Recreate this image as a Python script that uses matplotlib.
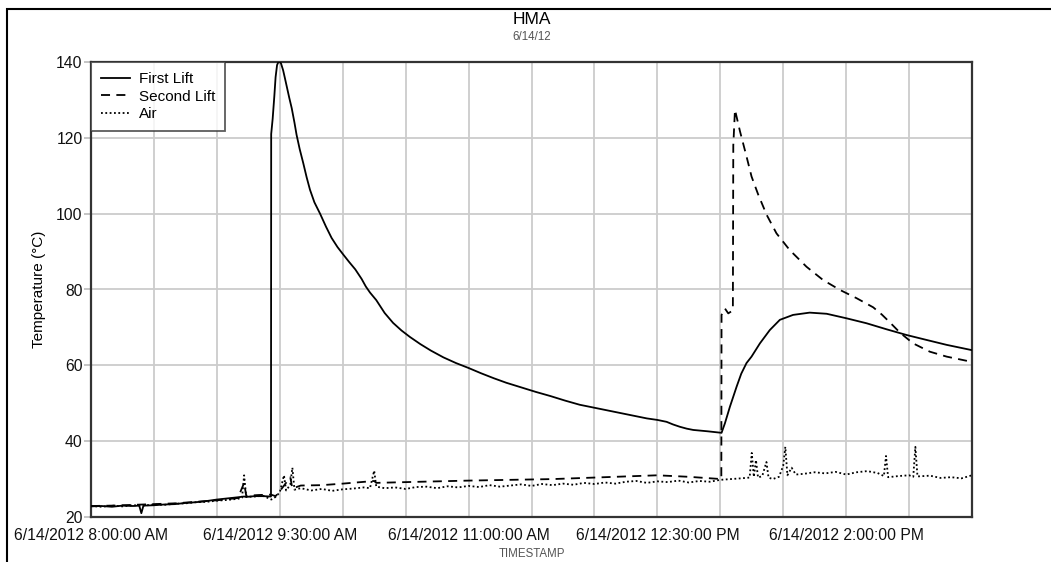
import matplotlib
matplotlib.use("Agg")
import matplotlib.pyplot as plt
import pandas as pd
from matplotlib.patches import Rectangle

# ---- data (minutes after 8:00 AM, temperature in deg C) ----
START = pd.Timestamp("2012-06-14 08:00")

first_lift_min = [0, 5, 10, 15, 20, 23, 24, 25, 30, 35, 40, 45, 50, 55, 60, 65, 70, 73, 74,
                  78, 82, 85.8, 85.9, 86.6, 87.4, 88.0, 88.7, 89.6, 90.6, 91.6, 92.5, 93.3,
                  94.5, 95.7, 97, 98, 99.5, 101.2, 102.8, 104.4, 106.5, 109.2, 112, 114.7,
                  117.5, 120, 123, 126, 129, 131, 133, 136, 140, 144, 148, 152, 157, 162,
                  168, 174, 180, 186, 192, 198, 205, 212, 219, 226, 233, 241, 249, 257,
                  265, 270, 274.4, 277.5, 280.7, 284, 287.1, 294, 300.6, 302.2, 304.6,
                  307.8, 310, 312.5, 314.9, 318.9, 323.6, 328.4, 334.7, 342.6, 350.7,
                  360.2, 369.7, 379.3, 388.8, 398.3, 407.9, 420]
first_lift_val = [22.8, 22.9, 22.7, 23.0, 22.9, 23.0, 21.0, 23.0, 23.1, 23.3, 23.4, 23.7,
                  23.9, 24.2, 24.6, 24.9, 25.2, 25.4, 25.3, 25.5, 25.5, 25.4, 121.0, 125.0,
                  131.0, 136.0, 139.2, 140.3, 139.6, 137.8, 135.6, 133.6, 130.6, 127.8,
                  124.0, 120.8, 117.0, 113.3, 109.6, 106.3, 103.0, 100.0, 96.6, 93.6, 91.2,
                  89.4, 87.3, 85.3, 82.8, 80.8, 79.2, 77.2, 73.8, 71.2, 69.2, 67.5, 65.6,
                  63.9, 62.1, 60.6, 59.3, 57.9, 56.6, 55.4, 54.2, 53.0, 51.9, 50.7, 49.6,
                  48.7, 47.8, 46.9, 46.0, 45.6, 45.1, 44.4, 43.8, 43.3, 42.96, 42.6, 42.2,
                  44.7, 49.1, 54.4, 57.8, 60.6, 62.3, 65.8, 69.3, 72.0, 73.3, 73.9, 73.6,
                  72.4, 71.1, 69.5, 68.0, 66.7, 65.4, 64.0]

second_lift_min = [0, 10, 20, 30, 40, 50, 60, 70, 73, 74, 80, 85.8, 88, 90, 95, 96, 100,
                   110, 120, 135, 136, 150, 165, 180, 200, 220, 240, 255, 270, 285, 300.5,
                   300.6, 302.2, 303.8, 306.0, 306.2, 307.0, 309.4, 312.5, 314.9, 318.1,
                   322.1, 326.8, 333.1, 341.1, 349.0, 357.0, 365.0, 372.9, 377.0, 380.9,
                   385.7, 391.9, 399.9, 407.9, 420]
second_lift_val = [22.9, 23.0, 23.2, 23.4, 23.6, 24.0, 24.4, 25.0, 29.0, 25.6, 25.8, 25.9,
                   25.5, 26.8, 30.5, 27.5, 28.3, 28.4, 28.8, 29.5, 29.0, 29.2, 29.4, 29.6,
                   29.8, 30.0, 30.4, 30.7, 31.0, 30.6, 30.0, 73.3, 75.0, 73.7, 74.5, 118.0,
                   127.4, 121.7, 115.1, 109.8, 105.0, 99.7, 94.8, 90.4, 86.0, 82.5, 79.9,
                   77.7, 75.3, 73.4, 71.3, 68.6, 65.8, 63.6, 62.3, 60.9]

air_min = [0, 5, 10, 15, 20, 25, 30, 35, 40, 45, 50, 55, 60, 65, 70, 72, 73, 74, 78, 82, 86,
           88, 90, 92, 93, 95, 96, 97, 100, 105, 110, 115, 120, 125, 130, 133, 135, 136,
           140, 145, 150, 155, 160, 165, 170, 175, 180, 185, 190, 195, 200, 205, 210, 215,
           220, 225, 230, 235, 240, 245, 250, 255, 260, 265, 270, 275, 280, 285, 290, 295,
           300, 305, 310, 314, 315, 316, 317, 318, 320, 322, 323, 325, 328, 330, 331, 332,
           334, 336, 340, 345, 350, 355, 360, 365, 370, 375, 378, 379, 380, 385, 390, 392,
           393, 394, 400, 405, 410, 415, 420]
air_val = [22.9, 22.7, 23.0, 22.8, 23.1, 23.0, 23.3, 23.2, 23.5, 23.6, 23.9, 24.0, 24.3,
           24.5, 24.8, 25.1, 31.0, 25.3, 25.4, 25.6, 24.6, 25.3, 26.5, 31.0, 27.0, 28.5,
           33.0, 27.2, 27.6, 27.0, 27.4, 26.9, 27.3, 27.5, 27.8, 27.6, 32.2, 28.0, 27.6,
           27.8, 27.4, 27.9, 28.0, 27.6, 28.1, 27.8, 28.2, 27.9, 28.4, 28.0, 28.3, 28.6,
           28.2, 28.7, 28.4, 28.8, 28.5, 29.0, 28.7, 29.1, 28.8, 29.3, 29.5, 29.0, 29.4,
           29.2, 29.6, 29.1, 29.5, 29.3, 29.8, 30.0, 30.2, 30.4, 36.9, 30.6, 35.0, 30.4,
           30.8, 34.5, 30.4, 30.0, 30.6, 33.5, 38.5, 31.0, 33.0, 31.2, 31.4, 31.8, 31.5,
           31.9, 31.2, 31.8, 32.1, 31.6, 30.8, 36.1, 30.5, 30.8, 31.0, 30.6, 38.5, 30.7,
           30.9, 30.3, 30.5, 30.2, 31.0]

tick_minutes = [0, 90, 180, 270, 360]
tick_labels = ["6/14/2012 8:00:00 AM", "6/14/2012 9:30:00 AM", "6/14/2012 11:00:00 AM",
               "6/14/2012 12:30:00 PM", "6/14/2012 2:00:00 PM"]
y_ticks = [20, 40, 60, 80, 100, 120, 140]


def to_time(mins):
    return [START + pd.Timedelta(minutes=m) for m in mins]


plt.rcParams["font.family"] = ["Liberation Sans", "DejaVu Sans"]

W, H = 1051, 562
fig = plt.figure(figsize=(W / 100, H / 100), dpi=100)
ax = fig.add_axes([91 / W, 1 - 517 / H, (972 - 91) / W, (517 - 62) / H])

ax.plot(to_time(first_lift_min), first_lift_val, color="black", lw=1.3,
        ls="-", label="First Lift", zorder=4)
ax.plot(to_time(second_lift_min), second_lift_val, color="black", lw=1.3,
        ls=(0, (5, 3.5)), label="Second Lift", zorder=3)
ax.plot(to_time(air_min), air_val, color="black", lw=1.3,
        ls=(0, (1, 1.4)), label="Air", zorder=2)

ax.set_xlim(START, START + pd.Timedelta(minutes=420))
ax.set_ylim(20, 140)
ax.set_yticks(y_ticks)
ax.set_xticks(to_time(tick_minutes))
ax.set_xticklabels(tick_labels)
ax.set_xticks(to_time(range(0, 421, 30)), minor=True)

ax.grid(True, which="both", color="#cccccc", lw=1.3, zorder=0)
ax.set_axisbelow(True)
ax.tick_params(axis="y", length=5, color="#bbbbbb", width=1.2, labelsize=11.3,
               pad=1, labelcolor="#111111")
ax.tick_params(axis="x", which="both", length=0, labelsize=11.3, pad=8,
               labelcolor="#111111")
for s in ax.spines.values():
    s.set_color("#333333")
    s.set_linewidth(1.6)

ax.set_ylabel("Temperature (°C)", fontsize=11, labelpad=7)

leg = ax.legend(loc="upper left", frameon=True, fancybox=False, fontsize=11,
                borderaxespad=0, handlelength=1.9, handletextpad=0.6,
                borderpad=0.65, labelspacing=0.24)
leg.get_frame().set_edgecolor("#333333")
leg.get_frame().set_linewidth(1.3)

fig.text(531.5 / W, 1 - 19 / H, "HMA", ha="center", va="center", fontsize=12.5)
fig.text(531.5 / W, 1 - 37 / H, "6/14/12", ha="center", va="center",
         fontsize=8.3, color="#555555")
fig.text(531.5 / W, 1 - 554 / H, "TIMESTAMP", ha="center", va="center",
         fontsize=8.3, color="#555555")

# outer frame around the whole report
fig.add_artist(Rectangle((7 / W, -0.1), 1.2, 1.1 - 9 / H,
                         transform=fig.transFigure, fill=False,
                         edgecolor="black", lw=1.5))

fig.savefig("out.png", dpi=100)
